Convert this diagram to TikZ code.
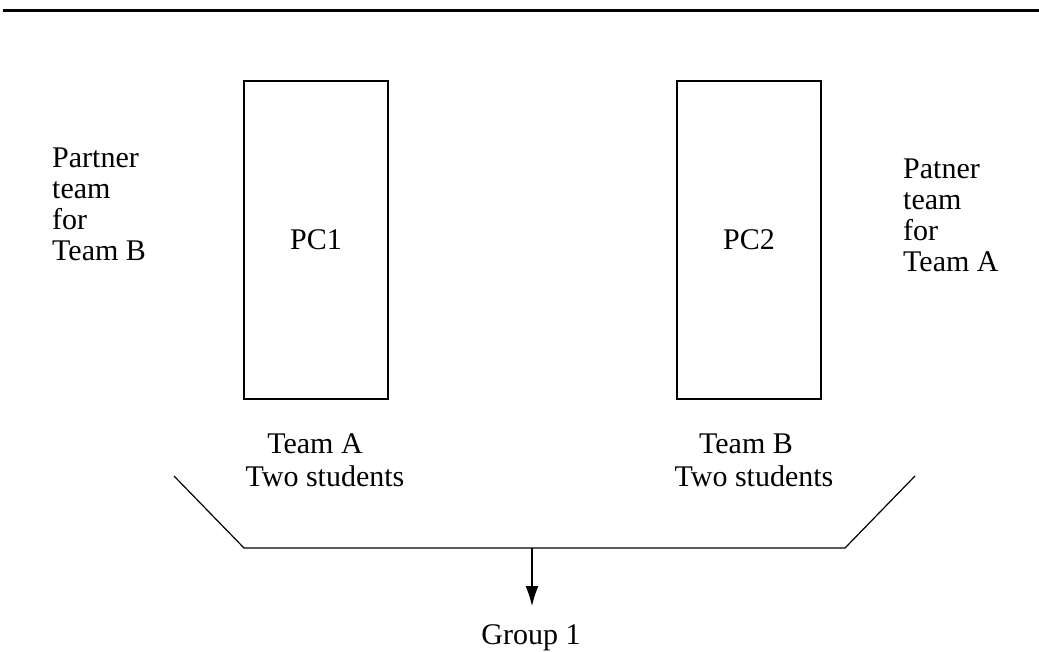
\documentclass[tikz,border=0pt]{standalone}
\usepackage{fontspec}
\setmainfont{Liberation Serif}
\usetikzlibrary{arrows.meta}
\begin{document}
\begin{tikzpicture}[x=1pt,y=-1pt,
  pcbox/.style={draw, line width=1.2pt, minimum width=144pt, minimum height=318pt, inner sep=0pt, font=\fontsize{30}{31}\selectfont},
  lbl/.style={inner sep=0pt, font=\fontsize{30}{31}\selectfont},
  side/.style={lbl, align=left, anchor=north west},
  wire/.style={line width=1.2pt}]
\useasboundingbox (0,0) rectangle (1039,652);
\draw[line width=3pt] (3,10.5) -- (1039,10.5);
\node[pcbox] (pc1) at (316,240) {PC1};
\node[pcbox] (pc2) at (749,240) {PC2};
\node[side] (pb) at (52,147.5) {Partner\\team\\for\\Team B};
\node[side] (pa) at (903,158.5) {Patner\\team\\for\\Team A};
\node[lbl, anchor=base] (ta) at (315,453) {Team A};
\node[lbl, anchor=base] (tas) at (325,486) {Two students};
\node[lbl, anchor=base] (tb) at (746,453) {Team B};
\node[lbl, anchor=base] (tbs) at (754,486) {Two students};
\coordinate (b1) at (174,476);
\coordinate (b2) at (244,548);
\coordinate (b3) at (845,548);
\coordinate (b4) at (915,476);
\coordinate (bm) at (532,548);
\draw[wire] (b1) -- (b2) -- (b3) -- (b4);
\node[lbl, anchor=base] (g1) at (531,644) {Group 1};
\coordinate (ae) at (532,606);
\draw[wire, -{Latex[length=20pt,width=13pt]}] (bm) -- (ae);
\end{tikzpicture}
\end{document}
